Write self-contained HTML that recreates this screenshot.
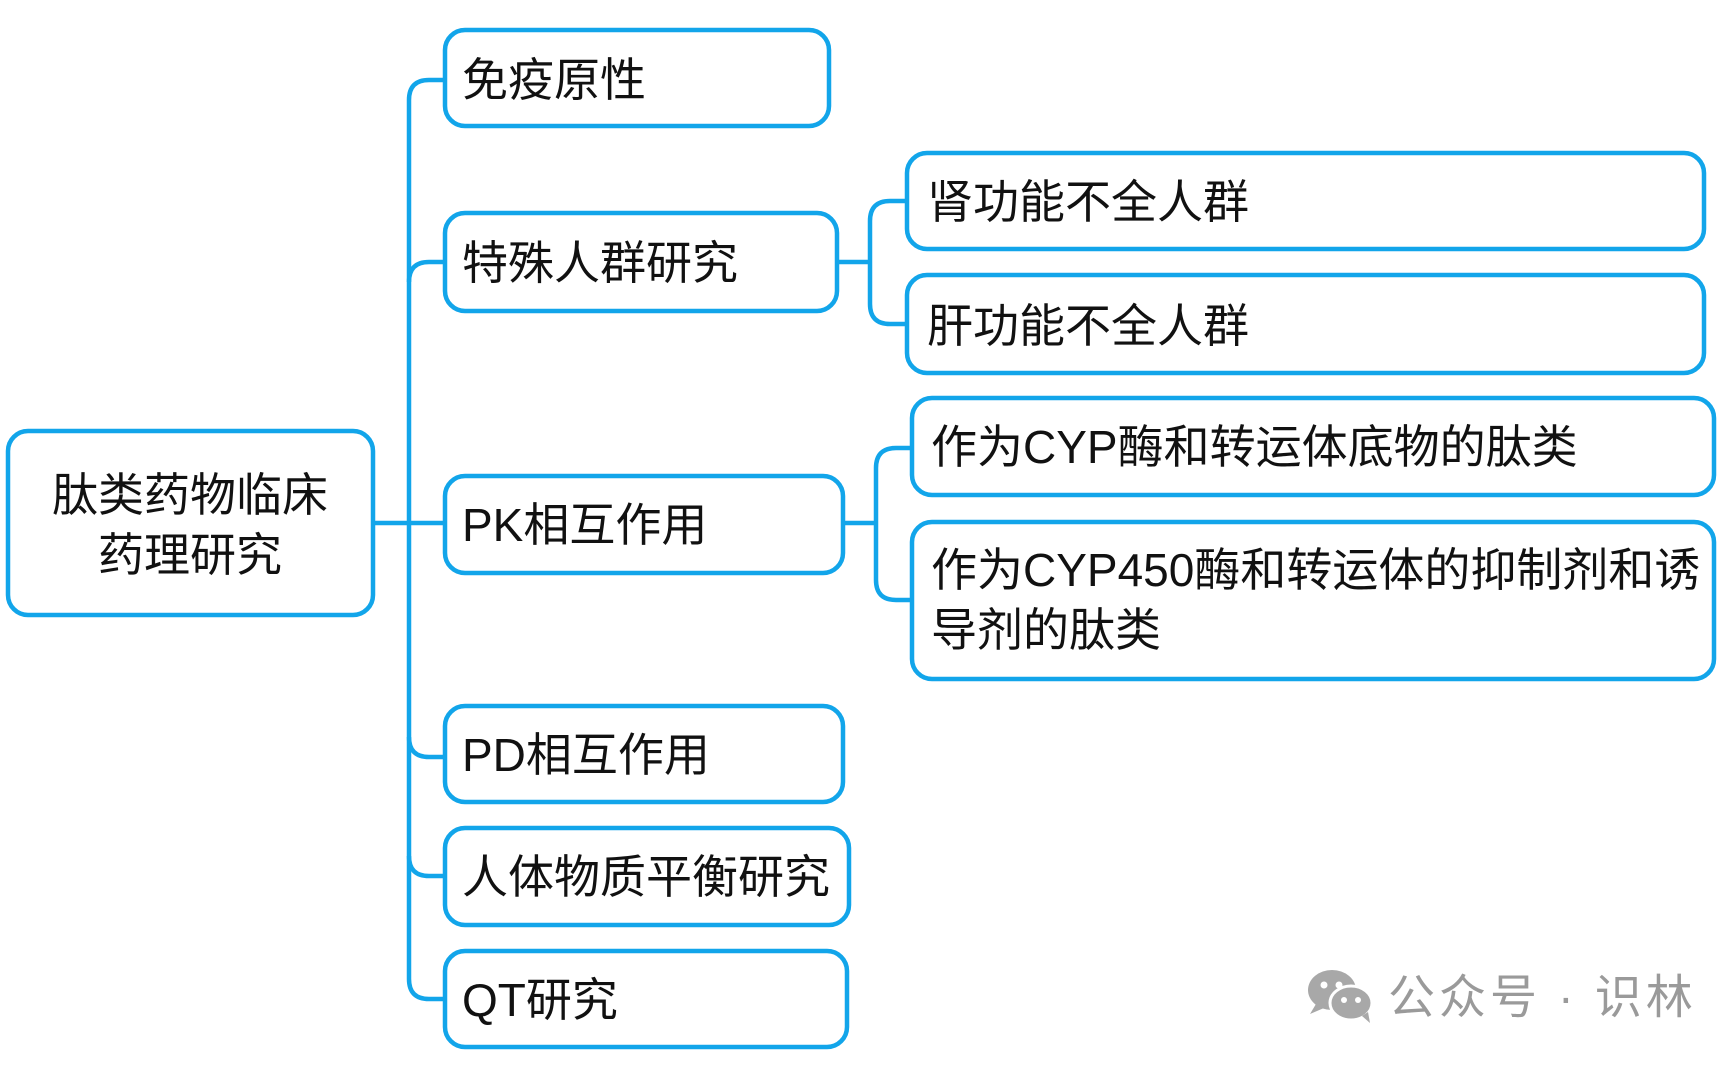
<!DOCTYPE html>
<html><head><meta charset="utf-8"><style>
html,body{margin:0;padding:0;background:#fff;}
svg{display:block;}
text{font-family:"Liberation Sans","Noto Sans CJK SC",sans-serif;font-size:46px;fill:#111;dominant-baseline:central;}
</style></head><body>
<svg width="1734" height="1066" viewBox="0 0 1734 1066" xmlns="http://www.w3.org/2000/svg">
<g fill="none" stroke="#12a5ea" stroke-width="4.5">
<path d="M445 80 H429 Q409 80 409 100 V979 Q409 999 429 999 H445"/>
<path d="M373 523 H445"/>
<path d="M409 282 Q409 262 429 262 H445"/>
<path d="M409 737 Q409 757 429 757 H445"/>
<path d="M409 856 Q409 876 429 876 H445"/>
<path d="M837 262 H870"/>
<path d="M907 201 H890 Q870 201 870 221 V304 Q870 324 890 324 H907"/>
<path d="M843 523 H876"/>
<path d="M912 448 H896 Q876 448 876 468 V580 Q876 600 896 600 H912"/>
<rect x="8" y="431" width="365" height="184" rx="20" fill="#fff"/>
<rect x="445" y="30" width="384" height="96" rx="20" fill="#fff"/>
<rect x="445" y="213" width="392" height="98" rx="20" fill="#fff"/>
<rect x="445" y="476" width="398" height="97" rx="20" fill="#fff"/>
<rect x="445" y="706" width="398" height="96" rx="20" fill="#fff"/>
<rect x="445" y="828" width="404" height="97" rx="20" fill="#fff"/>
<rect x="445" y="951" width="402" height="96" rx="20" fill="#fff"/>
<rect x="907" y="153" width="797" height="96" rx="20" fill="#fff"/>
<rect x="907" y="275" width="797" height="98" rx="20" fill="#fff"/>
<rect x="912" y="398" width="802" height="97" rx="20" fill="#fff"/>
<rect x="912" y="522" width="802" height="157" rx="20" fill="#fff"/>
</g>
<text x="190" y="495" text-anchor="middle">肽类药物临床</text>
<text x="190" y="555" text-anchor="middle">药理研究</text>
<text x="462" y="80">免疫原性</text>
<text x="462" y="263">特殊人群研究</text>
<text x="462" y="525">PK相互作用</text>
<text x="462" y="755">PD相互作用</text>
<text x="462" y="877">人体物质平衡研究</text>
<text x="462" y="1000">QT研究</text>
<text x="927" y="202">肾功能不全人群</text>
<text x="927" y="326">肝功能不全人群</text>
<text x="931" y="447">作为CYP酶和转运体底物的肽类</text>
<text x="931" y="570">作为CYP450酶和转运体的抑制剂和诱</text>
<text x="931" y="630">导剂的肽类</text>
<g fill="#a8a8a8">
<ellipse cx="1332" cy="990" rx="24" ry="20"/>
<path d="M1316 1004 l-6 10 l14 -6z"/>
<ellipse cx="1351" cy="1003" rx="21" ry="17" stroke="#fff" stroke-width="3"/>
<path d="M1362 1016 l8 7 l-2 -11z"/>
</g>
<g fill="#fff"><circle cx="1324" cy="985" r="3.5"/><circle cx="1339" cy="985" r="3.5"/><circle cx="1344" cy="1000" r="3"/><circle cx="1358" cy="1000" r="3"/></g>
<text x="1388" y="997" style="fill:#9a9a9a;font-size:47px;letter-spacing:4px">公众号 · 识林</text>
</svg>
</body></html>
